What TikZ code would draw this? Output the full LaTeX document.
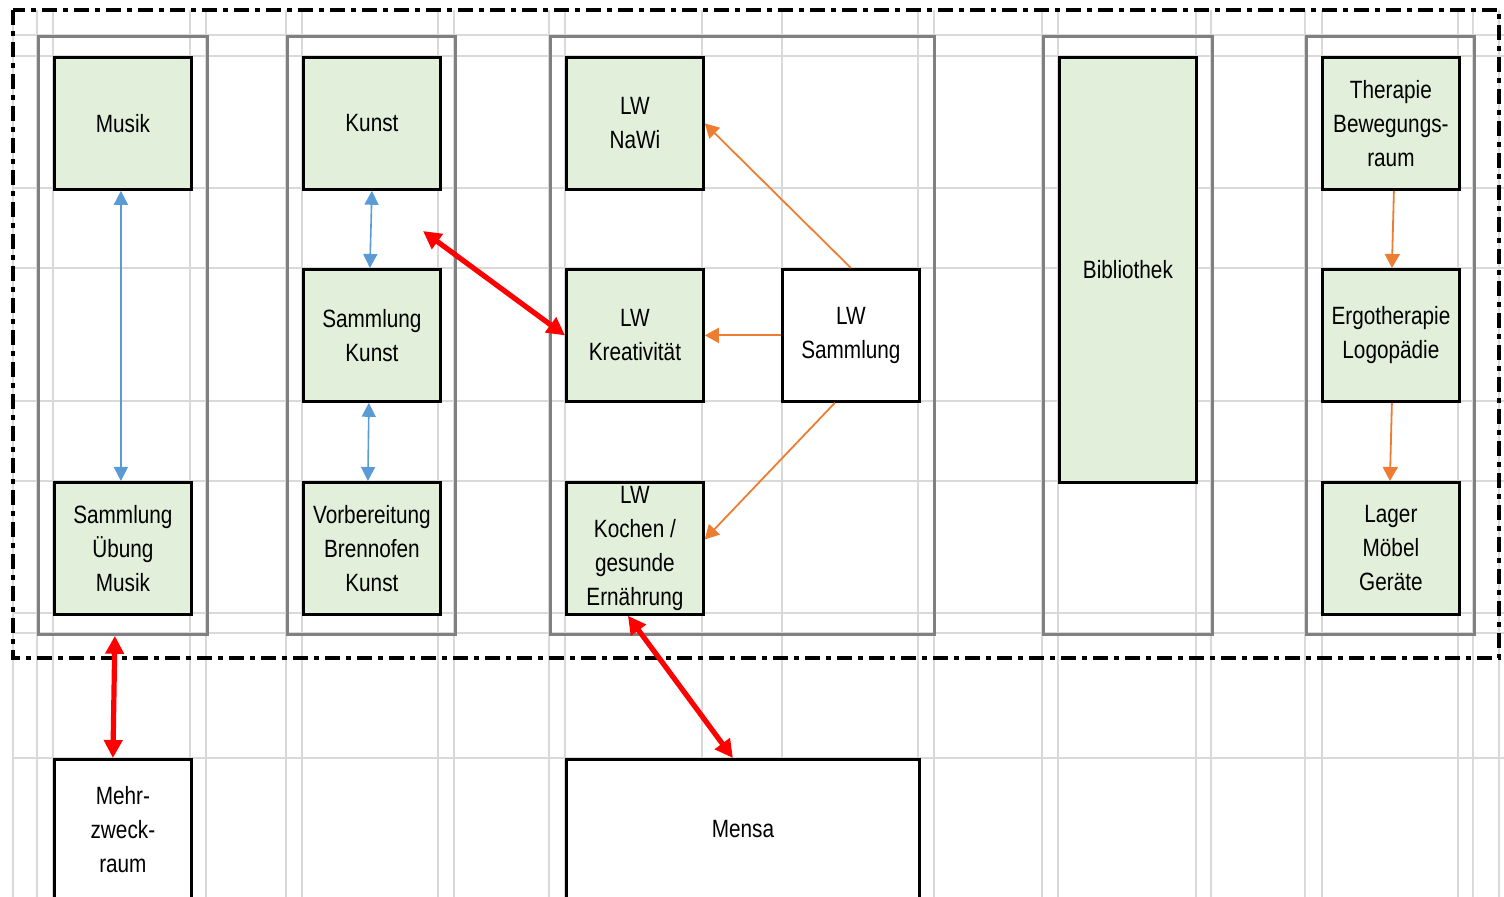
\documentclass[tikz,border=0pt]{standalone}
\usepackage{fontspec}
\setmainfont{Liberation Sans}[FakeStretch=0.83]
\usetikzlibrary{arrows.meta}
\definecolor{raumgruen}{RGB}{226,239,218}
\definecolor{gitter}{RGB}{217,217,217}
\definecolor{gruppengrau}{RGB}{128,128,128}
\definecolor{pfeilblau}{RGB}{91,155,213}
\definecolor{pfeilorange}{RGB}{237,125,49}

\tikzset{
  raum/.style={draw, line width=1.4pt, fill=raumgruen, anchor=north west,
    minimum width=68.5pt, minimum height=66pt, inner sep=0.5pt,
    align=center, font=\fontsize{12.5}{17}\selectfont},
  raumweiss/.style={raum, fill=white},
  gruppe/.style={draw=gruppengrau, line width=1.4pt, anchor=north west,
    minimum width=84.5pt, minimum height=299pt, inner sep=0pt},
  gitterlinie/.style={gitter, line width=1pt},
  blaupfeil/.style={{Triangle[length=7pt,width=7pt]}-{Triangle[length=7pt,width=7pt]}, pfeilblau, line width=0.8pt},
  orangepfeil/.style={-{Triangle[length=7pt,width=7.5pt]}, pfeilorange, line width=0.9pt},
  rotpfeil/.style={{Triangle[length=9pt,width=9pt]}-{Triangle[length=9pt,width=9pt]}, red, line width=2.6pt}
}

\begin{document}
\begin{tikzpicture}[x=0.5pt,y=-0.5pt]
\useasboundingbox (0,0) rectangle (1504,897);
\clip (0,0) rectangle (1504,897);

% Gitter
\foreach \x in {13,37,53,190,206,286,302,438,454,549,565,702,782,918,934,1042,1058,1196,1211,1305,1322,1458,1473,1499}
  \draw [gitterlinie] (\x,10) -- (\x,897);
\foreach \y in {35,56,188,268,401,481,613,633,758}
  \draw [gitterlinie] (13,\y) -- (1504,\y);

% Gruppen
\node [gruppe] (grpmusik) at (37,35) {};
\node [gruppe, minimum width=84pt] (grpkunst) at (286,35) {};
\node [gruppe, minimum width=192pt] (grplw) at (549,35) {};
\node [gruppe] (grpbib) at (1042,35) {};
\node [gruppe, minimum width=84pt] (grpther) at (1305,35) {};

% Raeume
\node [raum] (musik) at (53,56) {Musik};
\node [raum] (kunst) at (302,56) {Kunst};
\node [raum] (nawi) at (565,56) {LW\\NaWi};
\node [raum, minimum height=212.5pt] (bib) at (1058,56) {Bibliothek};
\node [raum] (therapie) at (1321,56) {Therapie\\Bewegungs-\\raum};

\node [raum] (samkunst) at (302,268) {Sammlung\\Kunst};
\node [raum] (kreat) at (565,268) {LW\\Kreativit\"at};
\node [raumweiss] (lwsam) at (781,268) {LW\\Sammlung};
\node [raum] (ergo) at (1321,268) {Ergotherapie\\Logop\"adie};

\node [raum] (sammusik) at (53,481) {Sammlung\\\"Ubung\\Musik};
\node [raum] (vorb) at (302,481) {Vorbereitung\\Brennofen\\Kunst};
\node [raum, inner sep=0pt] (kochen) at (565,481) {LW\\Kochen /\\gesunde\\Ern\"ahrung};
\node [raum] (lager) at (1321,481) {Lager\\M\"obel\\Ger\"ate};

\node [raumweiss, minimum height=70pt] (mehr) at (53,758) {Mehr-\\zweck-\\raum};
\node [raumweiss, minimum width=176.5pt, minimum height=70pt] (mensa) at (565,758) {Mensa};

% Rahmen
\draw [line width=2pt, dash pattern=on 7.5pt off 3pt on 2.5pt off 3pt] (13,10) rectangle (1499,658);

% Verbindungen
\draw [blaupfeil] ([xshift=-1pt]musik.south) -- ([xshift=-1pt]sammusik.north);
\draw [blaupfeil] (kunst.south) -- ([xshift=-1pt]samkunst.north);
\draw [blaupfeil] ([xshift=-1.5pt]samkunst.south) -- ([xshift=-2pt]vorb.north);

\coordinate (kunstgang) at (423,231);
\draw [rotpfeil] (kunstgang) -- (kreat.west);
\draw [rotpfeil] ([xshift=-4pt]grpmusik.south) -- ([xshift=-5pt]mehr.north);
\draw [rotpfeil] ([xshift=-3.5pt]kochen.south) -- ([xshift=-5pt]mensa.north);

\draw [orangepfeil] (lwsam.north) -- (nawi.east);
\draw [orangepfeil] (lwsam.west) -- (kreat.east);
\draw [orangepfeil] ([xshift=-8pt]lwsam.south) -- ([yshift=4.5pt]kochen.east);
\draw [orangepfeil] ([xshift=1.5pt]therapie.south) -- ([xshift=0.5pt]ergo.north);
\draw [orangepfeil] ([xshift=0.5pt]ergo.south) -- ([xshift=-0.5pt]lager.north);
\end{tikzpicture}
\end{document}
